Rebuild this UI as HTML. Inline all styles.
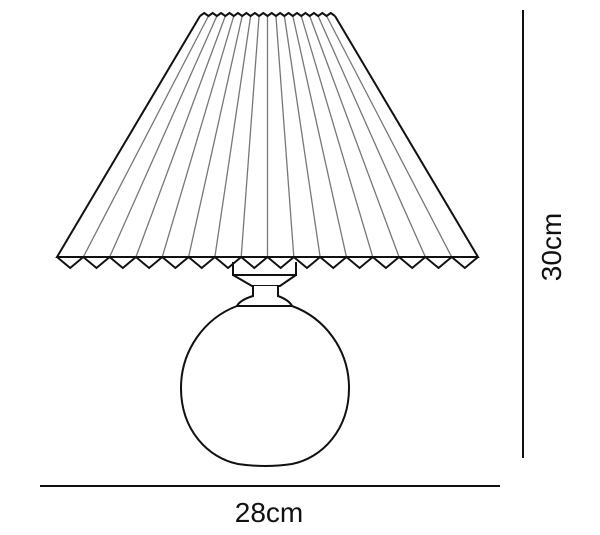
<!DOCTYPE html>
<html><head><meta charset="utf-8"><style>
html,body{margin:0;padding:0;background:#fff;}
svg{display:block;}
text{font-family:"Liberation Sans",sans-serif;fill:#111;}
</style></head><body>
<svg id="lamp" width="600" height="535" viewBox="0 0 600 535" xmlns="http://www.w3.org/2000/svg">
<g id="pleats" stroke="#777" stroke-width="1.3" fill="none"></g>
<g id="shade" stroke="#111" stroke-width="2" fill="none" stroke-linejoin="miter"></g>
<g stroke="#111" stroke-width="2" fill="#fff">
<path d="M233,262 L233,275 L296,275 L296,262" fill="none"/>
<path d="M233,275 L252,286 L280,286 L296,275" fill="none"/>
<path d="M253,286 L253,296 Q240,300 237,306 L292,306 Q289,300 278,296 L278,286"/>
</g>
<path d="M237,306 C205,318 181,350 181,388 C181,430 208,458 238,464 Q265,468 292,464 C322,458 349,430 349,388 C349,350 325,318 292,306" stroke="#111" stroke-width="2" fill="none"/>
<line x1="523" y1="10" x2="523" y2="458" stroke="#111" stroke-width="2"/>
<text x="0" y="0" font-size="28" text-anchor="middle" transform="translate(561,247) rotate(-90)">30cm</text>
<line x1="40" y1="486" x2="500" y2="486" stroke="#111" stroke-width="2"/>
<text x="269" y="522" font-size="28" text-anchor="middle">28cm</text>
</svg>
<script>
const teeth = 16;
const topL = 200, topR = 335, topY = 13, botL = 57, botR = 478, botY = 257, toothDepth = 11;
const ns = "http://www.w3.org/2000/svg";
const pleats = document.getElementById('pleats');
const shade = document.getElementById('shade');
let topPath = "M" + topL + "," + (topY+3);
for (let i = 0; i <= teeth; i++) {
  const tx = topL + (topR - topL) * i / teeth;
  const bx = botL + (botR - botL) * i / teeth;
  if (i > 0 && i < teeth) {
    const l = document.createElementNS(ns, 'line');
    
    
    l.setAttribute('x1', tx); l.setAttribute('y1', topY + 3);
    l.setAttribute('x2', bx); l.setAttribute('y2', botY);
    pleats.appendChild(l);
  }
  if (i > 0) {
    const mx = topL + (topR - topL) * (i - 0.5) / teeth;
    topPath += " L" + mx + "," + topY + " L" + tx + "," + (topY + 3);
  }
}
let zig = "M" + botL + "," + botY;
for (let i = 0; i < teeth; i++) {
  const a = botL + (botR - botL) * i / teeth;
  const b = botL + (botR - botL) * (i + 1) / teeth;
  zig += " L" + ((a + b) / 2) + "," + (botY + toothDepth) + " L" + b + "," + botY;
}
const p1 = document.createElementNS(ns, 'path');


p1.setAttribute('d', topPath + " M" + topL + "," + (topY+3) + " L" + botL + "," + botY + " L" + botR + "," + botY + " L" + topR + "," + (topY+3));
shade.appendChild(p1);
const p2 = document.createElementNS(ns, 'path');


p2.setAttribute('d', zig);
shade.appendChild(p2);
</script>
</body></html>
